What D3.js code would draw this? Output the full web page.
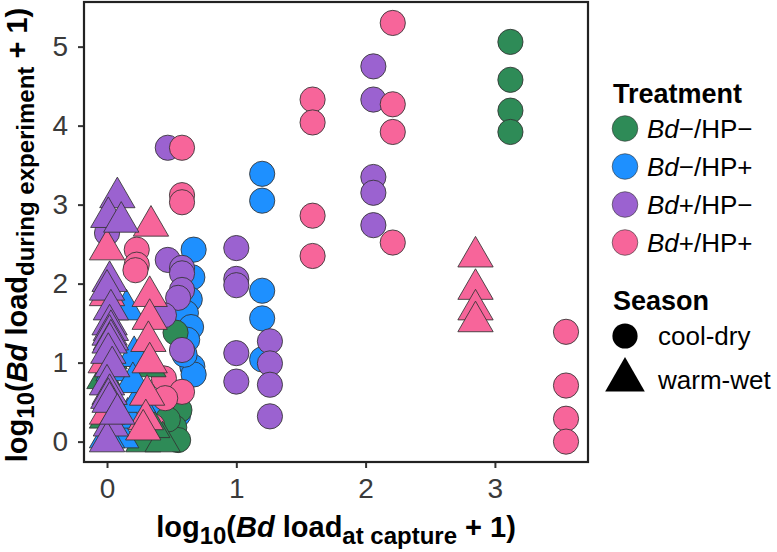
<!DOCTYPE html>
<html>
<head>
<meta charset="utf-8">
<script src="https://cdn.jsdelivr.net/npm/d3@7"></script>
<style>
  body { margin: 0; background: #fff; }
  svg { font-family: "Liberation Sans", Arial, sans-serif; }
</style>
</head>
<body>
<svg id="chart" width="777" height="552"></svg>
<script>
// categories
const treatments = ["Bd−/HP−", "Bd−/HP+", "Bd+/HP−", "Bd+/HP+"];
const seasons = ["cool-dry", "warm-wet"];
const xTicks = [0, 1, 2, 3];
const yTicks = [0, 1, 2, 3, 4, 5];

// points per treatment and season, [load at capture, load during experiment]
const negNegCool = [[3.12,5.06],[3.12,4.58],[3.12,4.19],[3.12,3.92],
  [0.53,1.38],[0.57,0.62],[0.56,0.40],[0.52,0.18],[0.55,0.02],[0.47,0.28]];
const negNegWarm = [[-0.02,0.80],[0.00,0.30],[0.03,0.12],[0.28,0.00],[0.43,0.00],
  [0.35,0.18],[0.32,0.95],[0.06,0.45],[0.02,1.05]];
const negPosCool = [[1.20,3.39],[1.20,3.05],[1.20,1.91],[1.20,1.56],[1.20,1.04],
  [0.67,2.43],[0.66,2.08],[0.64,1.80],[0.61,1.63],[0.65,1.45],[0.62,1.29],[0.66,0.95],
  [0.67,0.85],[0.55,0.34],[0.45,0.15],[0.40,0.40],[0.60,1.10],[0.35,0.05]];
const negPosWarm = [[0.15,1.67],[0.21,1.08],[0.11,0.05],[0.16,0.30],[0.00,0.05],
  [0.24,0.50],[0.05,0.90],[0.20,0.75]];
const posNegCool = [[2.06,4.75],[2.06,4.33],[2.06,3.35],[2.06,3.15],[2.06,2.74],
  [1.00,2.45],[1.00,2.06],[1.00,1.98],[1.00,1.12],[1.00,0.76],
  [1.26,1.27],[1.26,0.99],[1.26,0.72],[1.26,0.32],
  [0.47,3.72],[0.47,2.30],[0.58,2.20],[0.58,2.13],[0.58,1.92],[0.55,1.82],[0.58,1.16],
  [0.00,2.64],[0.44,1.60]];
const posNegWarm = [[0.08,3.09],[0.01,2.84],[0.11,2.78],[0.02,2.03],[0.00,1.92],
  [0.03,1.67],[0.02,1.48],[0.03,1.41],[0.02,1.35],[0.03,1.29],[0.02,1.25],[0.01,1.12],
  [0.04,0.95],[0.00,0.72],[0.02,0.60],[0.01,0.55],[0.02,0.50],[0.03,0.20],[0.00,0.00],[0.08,0.35]];
const posPosCool = [[2.21,5.30],[1.59,4.33],[1.59,4.04],[2.21,4.27],[2.21,3.92],
  [1.59,2.86],[1.59,2.35],[2.21,2.52],
  [3.55,1.39],[3.55,0.71],[3.55,0.29],[3.55,0.00],
  [0.58,3.72],[0.58,3.12],[0.58,3.03],[0.23,2.43],[0.23,2.24],[0.22,2.17],
  [0.44,0.80],[0.58,0.63],[0.45,0.55],[0.35,0.20]];
const posPosWarm = [[2.85,2.34],[2.85,1.93],[2.85,1.67],[2.85,1.52],
  [0.00,2.43],[0.34,2.73],[0.33,1.84],[0.33,1.55],[0.32,1.27],[0.33,1.00],
  [0.31,0.59],[0.30,0.28],[0.00,1.85],[-0.01,1.00],[0.00,0.35],[0.28,0.15]];

// draw order: circles first, then triangles
const layers = [
  [negPosCool, 1, 0], [negNegCool, 0, 0], [posNegCool, 2, 0], [posPosCool, 3, 0],
  [negNegWarm, 0, 1], [negPosWarm, 1, 1], [posPosWarm, 3, 1], [posNegWarm, 2, 1]
];

let points = [];
layers.forEach(function(l) {
  l[0].forEach(function(p) {
    points.push({x: p[0], y: p[1], treatment: treatments[l[1]], season: seasons[l[2]]});
  });
});

const panel = {left: 84, right: 588, top: 2, bottom: 462};

const x = d3.scaleLinear().domain([-0.178, 3.72]).range([panel.left, panel.right]);
const y = d3.scaleLinear().domain([-0.258, 5.565]).range([panel.bottom, panel.top]);

const color = d3.scaleOrdinal()
  .domain(treatments)
  .range(["#2e8b57", "#1e90ff", "#9b62d0", "#f7659a"]);

const shape = d3.scaleOrdinal()
  .domain(seasons)
  .range([d3.symbolCircle, d3.symbolTriangle]);

const size = d3.scaleOrdinal()
  .domain(seasons)
  .range([Math.PI * 12.6 * 12.6, 540]);

const svg = d3.select("#chart");

// panel background
svg.append("rect")
  .attr("x", panel.left).attr("y", panel.top)
  .attr("width", panel.right - panel.left)
  .attr("height", panel.bottom - panel.top)
  .attr("fill", "#fff");

// points
svg.append("clipPath").attr("id", "clip")
  .append("rect")
  .attr("x", panel.left).attr("y", panel.top)
  .attr("width", panel.right - panel.left)
  .attr("height", panel.bottom - panel.top);

svg.append("g")
  .attr("clip-path", "url(#clip)")
  .selectAll("path")
  .data(points)
  .join("path")
  .attr("transform", d => `translate(${x(d.x)},${y(d.y)})`)
  .attr("d", d => d3.symbol().type(shape(d.season)).size(size(d.season))())
  .attr("fill", d => color(d.treatment))
  .attr("stroke", "#333")
  .attr("stroke-opacity", 0.85)
  .attr("stroke-width", 1);

// axes
const xAxis = svg.append("g")
  .attr("transform", `translate(0,${panel.bottom})`)
  .call(d3.axisBottom(x).tickValues(xTicks).tickSize(6).tickPadding(10).tickFormat(d3.format("d")));
const yAxis = svg.append("g")
  .attr("transform", `translate(${panel.left},0)`)
  .call(d3.axisLeft(y).tickValues(yTicks).tickSize(6).tickPadding(10).tickFormat(d3.format("d")));

[xAxis, yAxis].forEach(function(a) {
  a.select(".domain").remove();
  a.selectAll(".tick line").attr("stroke", "#333").attr("stroke-width", 2);
  a.selectAll(".tick text")
    .attr("font-size", 28)
    .attr("font-family", "Liberation Sans, Arial, sans-serif")
    .attr("fill", "#3a3a3a");
});

// panel border
svg.append("rect")
  .attr("x", panel.left).attr("y", panel.top)
  .attr("width", panel.right - panel.left)
  .attr("height", panel.bottom - panel.top)
  .attr("fill", "none")
  .attr("stroke", "#222")
  .attr("stroke-width", 2.2);

// axis titles with subscripts
function axisTitle(g, sub) {
  const t = g.append("text")
    .attr("text-anchor", "middle")
    .attr("font-weight", "bold")
    .attr("font-size", 29)
    .attr("fill", "#000");
  t.append("tspan").text("log");
  t.append("tspan").attr("font-size", 24).attr("dy", 7).text("10");
  t.append("tspan").attr("dy", -7).text("(");
  t.append("tspan").attr("font-style", "italic").text("Bd");
  t.append("tspan").text(" load");
  t.append("tspan").attr("font-size", 24).attr("dy", 7).text(sub);
  t.append("tspan").attr("dy", -7).text(" + 1)");
  return t;
}

axisTitle(svg.append("g").attr("transform", `translate(${(panel.left + panel.right) / 2},537)`), "at capture");
axisTitle(svg.append("g").attr("transform", `translate(27,235) rotate(-90)`), "during experiment");

// legend
const legend = svg.append("g");

legend.append("text")
  .attr("x", 613).attr("y", 103)
  .attr("font-weight", "bold").attr("font-size", 27)
  .text("Treatment");

const tItems = legend.selectAll(".titem")
  .data(treatments)
  .join("g")
  .attr("class", "titem")
  .attr("transform", (d, i) => `translate(625,${128.5 + i * 38})`);

tItems.append("circle")
  .attr("r", 12.8)
  .attr("fill", d => color(d))
  .attr("stroke", "#333")
  .attr("stroke-opacity", 0.6)
  .attr("stroke-width", 1);

tItems.append("text")
  .attr("x", 22).attr("dy", "0.36em")
  .attr("font-size", 26)
  .each(function(d) {
    const t = d3.select(this);
    t.append("tspan").attr("font-style", "italic").text("Bd");
    t.append("tspan").text(d.slice(2));
  });

legend.append("text")
  .attr("x", 613).attr("y", 310)
  .attr("font-weight", "bold").attr("font-size", 27)
  .text("Season");

const sItems = legend.selectAll(".sitem")
  .data(seasons)
  .join("g")
  .attr("class", "sitem")
  .attr("transform", (d, i) => `translate(625,${336 + i * 44})`);

sItems.append("path")
  .attr("d", d => d3.symbol().type(shape(d)).size(d === "cool-dry" ? Math.PI * 12.6 * 12.6 : 680)())
  .attr("fill", "#000");

sItems.append("text")
  .attr("x", 33).attr("dy", "0.36em")
  .attr("font-size", 26)
  .text(d => d);
</script>
</body>
</html>
